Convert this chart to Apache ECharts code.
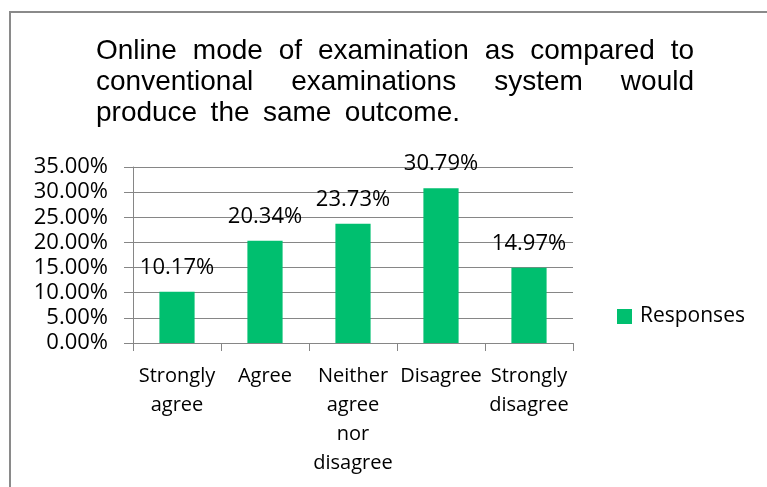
<!DOCTYPE html>
<html>
<head>
<meta charset="utf-8">
<script src="https://cdn.jsdelivr.net/npm/echarts@6/dist/echarts.min.js"></script>
<style>
html,body{margin:0;padding:0;background:#fff;}
#chart{width:767px;height:487px;}
</style>
</head>
<body>
<div id="chart"></div>
<script>
// ---- data ----
var categories = ['Strongly\nagree', 'Agree', 'Neither\nagree\nnor\ndisagree', 'Disagree', 'Strongly\ndisagree'];
var responses = [0.1017, 0.2034, 0.2373, 0.3079, 0.1497];
var seriesName = 'Responses';
var titleLines = [
  'Online mode of examination as compared to',
  'conventional examinations system would',
  'produce the same outcome.'
];
var yMin = 0, yMax = 0.35, yStep = 0.05;

// ---- title layout (justified, like the original text box) ----
var TITLE_FONT_SIZE = 28;
var TITLE_FONT = TITLE_FONT_SIZE + 'px "Liberation Sans", Arial, sans-serif';
var tLeft = 96;
var lineRight = [694, 694, 460];
var baselines = [61, 92, 123];
var cv = document.createElement('canvas').getContext('2d');
cv.font = TITLE_FONT;
var titleGraphics = [];
titleLines.forEach(function (line, li) {
  var yMid = baselines[li] - TITLE_FONT_SIZE * 0.36;
  var words = line.split(' ');
  var widths = words.map(function (w) { return cv.measureText(w).width; });
  var total = widths.reduce(function (a, b) { return a + b; }, 0);
  var gap = (lineRight[li] - tLeft - total) / (words.length - 1);
  var x = tLeft;
  words.forEach(function (w, i) {
    titleGraphics.push({
      type: 'text', x: x, y: yMid, silent: true,
      style: { text: w, font: TITLE_FONT, fill: '#000', verticalAlign: 'middle', align: 'left' }
    });
    x += widths[i] + gap;
  });
});

var pct = function (v) { return (v * 100).toFixed(2) + '%'; };
var LABEL_FONT = '"Open Sans", sans-serif';
var gridColor = '#868686';

var chart = echarts.init(document.getElementById('chart'), null, { renderer: 'canvas' });
chart.setOption({
  animation: false,
  backgroundColor: '#fff',
  graphic: [
    {
      type: 'rect', silent: true, z: -1,
      shape: { x: 10, y: 12, width: 800, height: 520 },
      style: { fill: 'none', stroke: '#8a8a8a', lineWidth: 2 }
    }
  ].concat(titleGraphics),
  grid: { left: 133, right: 194, top: 167, bottom: 144, containLabel: false },
  legend: {
    data: [seriesName],
    left: 617, top: 306, padding: 0,
    icon: 'rect', itemWidth: 15, itemHeight: 15,
    textStyle: { fontFamily: LABEL_FONT, fontSize: 21, color: '#000', padding: [0, 0, 0, 3] }
  },
  xAxis: {
    type: 'category',
    data: categories,
    axisLine: { lineStyle: { color: gridColor, width: 1 } },
    axisTick: { show: true, length: 8, lineStyle: { color: gridColor } },
    axisLabel: {
      interval: 0, margin: 19, lineHeight: 29,
      fontFamily: LABEL_FONT, fontSize: 20, color: '#000'
    }
  },
  yAxis: {
    type: 'value', min: yMin, max: yMax, interval: yStep,
    axisLine: { show: true, lineStyle: { color: gridColor, width: 1 } },
    axisTick: { show: true, length: 9, lineStyle: { color: gridColor } },
    splitLine: { lineStyle: { color: gridColor, width: 1 } },
    axisLabel: {
      margin: 25, formatter: pct,
      fontFamily: LABEL_FONT, fontSize: 22, color: '#000'
    }
  },
  series: [{
    name: seriesName,
    type: 'bar',
    data: responses,
    barWidth: '40%',
    itemStyle: { color: '#00BF6F' },
    label: {
      show: true, position: 'top', distance: 13,
      formatter: function (p) { return pct(p.value); },
      fontFamily: LABEL_FONT, fontSize: 22, color: '#000'
    }
  }]
});
</script>
</body>
</html>
